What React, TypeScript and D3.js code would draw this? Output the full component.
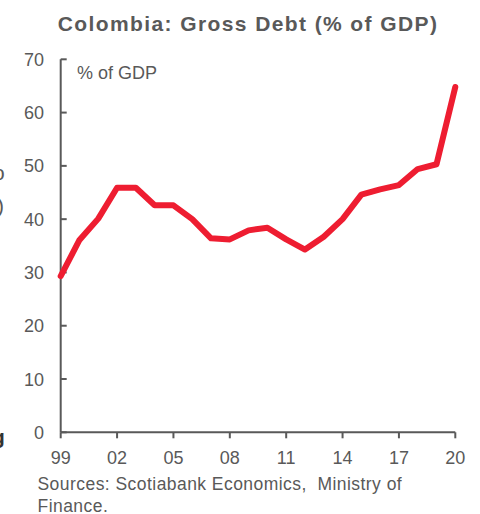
import React from "react";
import * as d3 from "d3";

const years = [1999,2000,2001,2002,2003,2004,2005,2006,2007,2008,2009,2010,2011,2012,2013,2014,2015,2016,2017,2018,2019,2020];
const debt = [29.3,36.1,40.1,45.9,45.9,42.6,42.6,40.0,36.4,36.2,37.9,38.4,36.2,34.3,36.7,40.0,44.6,45.6,46.4,49.4,50.3,64.8];
const yTicks = [0,10,20,30,40,50,60,70];
const xTicks = [1999,2002,2005,2008,2011,2014,2017,2020];
const xTickLabels = ["99","02","05","08","11","14","17","20"];
const title = "Colombia: Gross Debt (% of GDP)";
const unitLabel = "% of GDP";
const sourceLines = ["Sources: Scotiabank Economics,  Ministry of", "Finance."];

export default function App() {
  const W = 480, H = 514;
  const x = d3.scaleLinear().domain([1999, 2020]).range([60.7, 455.3]);
  const y = d3.scaleLinear().domain([0, 70]).range([432.3, 59.3]);
  const line = d3.line<number>().x((_, i) => x(years[i])).y((d) => y(d)).curve(d3.curveLinear);
  const gray = "#595959";
  const font = "'Liberation Sans', Arial, sans-serif";
  return (
    <svg width={W} height={H} style={{ position: "absolute", left: 0, top: 0, background: "#fff" }} fontFamily={font}>
      <text x={248} y={31} textAnchor="middle" fontSize={21} fontWeight="bold" letterSpacing={1.4} fill={gray}>{title}</text>
      {/* fragments of neighbouring chart */}
      <text x={-7} y={180} fontSize={21} fill={gray}>o</text>
      <text x={-3} y={213} fontSize={21} fill={gray}>)</text>
      <text x={-8} y={444} fontSize={21} fontWeight="bold" fill="#333">g</text>
      {/* y axis */}
      <line x1={x(1999)} x2={x(1999)} y1={y(70)} y2={y(0)} stroke={gray} strokeWidth={2} />
      {yTicks.map((t) => (
        <g key={t}>
          <line x1={x(1999)} x2={x(1999) + 6} y1={y(t)} y2={y(t)} stroke={gray} strokeWidth={2} />
          <text x={44} y={y(t) + 6.5} textAnchor="end" fontSize={18} fill={gray}>{t}</text>
        </g>
      ))}
      {/* x axis */}
      <line x1={x(1999)} x2={x(2020)} y1={y(0)} y2={y(0)} stroke={gray} strokeWidth={2} />
      {xTicks.map((t, i) => (
        <g key={t}>
          <line x1={x(t)} x2={x(t)} y1={y(0)} y2={y(0) + 6} stroke={gray} strokeWidth={2} />
          <text x={x(t)} y={463.5} textAnchor="middle" fontSize={18} fill={gray}>{xTickLabels[i]}</text>
        </g>
      ))}
      <text x={77} y={79} fontSize={18} fill={gray}>{unitLabel}</text>
      <path d={line(debt) || ""} fill="none" stroke="#EE1D31" strokeWidth={6} strokeLinejoin="round" strokeLinecap="round" />
      {sourceLines.map((s, i) => (
        <text key={i} x={37.5} y={489.5 + i * 22.5} fontSize={17.5} letterSpacing={0.45} fill={gray} style={{ whiteSpace: "pre" }}>{s}</text>
      ))}
    </svg>
  );
}
